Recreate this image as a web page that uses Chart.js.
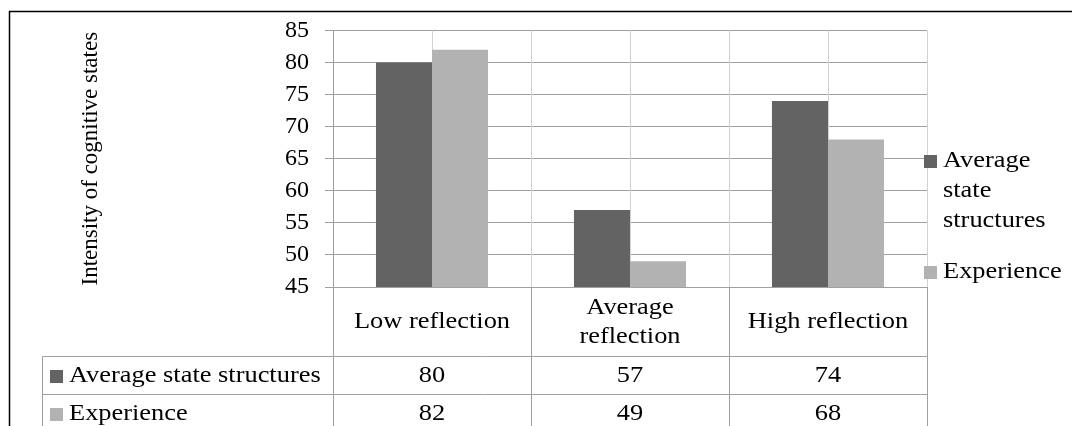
<!DOCTYPE html>
<html>
<head>
<meta charset="utf-8">
<script src="https://cdn.jsdelivr.net/npm/chart.js@4/dist/chart.umd.min.js"></script>
<style>
  html, body { margin: 0; padding: 0; background: #fff; }
  #wrap { width: 1072px; height: 426px; }
</style>
</head>
<body>
<div id="wrap"><canvas id="chart" width="1072" height="426"></canvas></div>
<script>
// Chart data
const categories = ["Low reflection", "Average reflection", "High reflection"];
const seriesNames = ["Average state structures", "Experience"];
const stateValues = [80, 57, 74];
const experienceValues = [82, 49, 68];
const seriesColors = ["#636363", "#b2b2b2"];
const yTitle = "Intensity of cognitive states";
const yMin = 45;
const yMax = 85;
const yStep = 5;

const FONT = "'Liberation Serif', 'Times New Roman', serif";
const SX = 1.1; // text in the reference is a little wider than tall

// text drawn a bit wider horizontally
function drawText(ctx, text, x, y, align) {
  ctx.save();
  ctx.translate(x, y);
  ctx.scale(SX, 1);
  ctx.textAlign = align || "center";
  ctx.textBaseline = "middle";
  ctx.fillText(text, 0, 0);
  ctx.restore();
}

// split words into lines that fit maxWidth
function wrapWords(ctx, text, maxWidth) {
  const words = text.split(" ");
  const lines = [];
  let line = "";
  words.forEach((w) => {
    const test = line ? line + " " + w : w;
    if (ctx.measureText(test).width * SX > maxWidth && line) {
      lines.push(line);
      line = w;
    } else {
      line = test;
    }
  });
  lines.push(line);
  return lines;
}

function line(ctx, x1, y1, x2, y2) {
  ctx.beginPath();
  ctx.moveTo(x1, y1);
  ctx.lineTo(x2, y2);
  ctx.stroke();
}

const tablePlugin = {
  id: "tablePlugin",
  beforeDatasetsDraw(chart) {
    // vertical gridlines every half category
    const { ctx, chartArea: a, scales: { x } } = chart;
    const half = (x.getPixelForValue(1) - x.getPixelForValue(0)) / 2;
    ctx.save();
    ctx.strokeStyle = "#d2d2d2";
    ctx.lineWidth = 1;
    for (let i = 0; i < categories.length; i++) {
      const c = Math.round(x.getPixelForValue(i)) + 0.5;
      line(ctx, c, a.top, c, a.bottom);
      const r = Math.round(x.getPixelForValue(i) + half) + 0.5;
      line(ctx, r, a.top, r, a.bottom);
    }
    ctx.restore();
  },
  afterDraw(chart) {
    const { ctx, chartArea: a, scales: { x } } = chart;
    const half = (x.getPixelForValue(1) - x.getPixelForValue(0)) / 2;
    const H = chart.height;
    const tableLeft = 42.5;
    const row1 = Math.round(a.bottom + 69) + 0.5;
    const row2 = row1 + 38;
    const axisX = Math.round(a.left) + 0.5;

    ctx.save();
    ctx.strokeStyle = "#a0a0a0";
    ctx.lineWidth = 1;
    // table lines
    line(ctx, axisX, a.bottom, axisX, H);
    for (let i = 0; i < categories.length; i++) {
      const r = Math.round(x.getPixelForValue(i) + half) + 0.5;
      line(ctx, r, a.bottom, r, H);
    }
    line(ctx, tableLeft, row1, a.right, row1);
    line(ctx, tableLeft, row2, a.right, row2);
    line(ctx, tableLeft, row1, tableLeft, H);

    ctx.fillStyle = "#000";
    ctx.font = "24px " + FONT;
    // category row
    const catMid = (a.bottom + row1) / 2;
    categories.forEach((c, i) => {
      const lines = wrapWords(ctx, c, half * 2 - 14);
      const lh = 29;
      lines.forEach((t, k) => {
        drawText(ctx, t, x.getPixelForValue(i), catMid + (k - (lines.length - 1) / 2) * lh);
      });
    });
    // value rows
    const rows = [stateValues, experienceValues];
    rows.forEach((vals, r) => {
      const yMid = row1 + 38 * r + 19;
      ctx.fillStyle = seriesColors[r];
      ctx.fillRect(50, Math.round(yMid - 6), 13, 13);
      ctx.fillStyle = "#000";
      drawText(ctx, seriesNames[r], 69, yMid, "left");
      vals.forEach((v, i) => drawText(ctx, String(v), x.getPixelForValue(i), yMid));
    });

    // legend on the right
    const legX = a.right + 16;
    const legY = [161, 272];
    seriesNames.forEach((n, r) => {
      ctx.fillStyle = seriesColors[r];
      ctx.fillRect(a.right - 3, legY[r] - 6, 13, 13);
      ctx.fillStyle = "#000";
      const lines = wrapWords(ctx, n, chart.width - legX - 4);
      lines.forEach((t, k) => drawText(ctx, t, legX, legY[r] + k * 30, "left"));
    });

    // y axis title
    ctx.save();
    ctx.font = "23px " + FONT;
    ctx.translate(91, (a.top + a.bottom) / 2);
    ctx.rotate(-Math.PI / 2);
    ctx.textAlign = "center";
    ctx.textBaseline = "middle";
    ctx.fillText(yTitle, 0, 0);
    ctx.restore();

    // outer chart border (cut off at right and bottom)
    ctx.strokeStyle = "#000";
    ctx.lineWidth = 1.5;
    ctx.beginPath();
    ctx.moveTo(chart.width, 11.5);
    ctx.lineTo(9.5, 11.5);
    ctx.lineTo(9.5, H);
    ctx.stroke();
    ctx.restore();
  }
};

new Chart(document.getElementById("chart"), {
  type: "bar",
  data: {
    labels: categories,
    datasets: [
      {
        label: seriesNames[0],
        data: stateValues,
        backgroundColor: seriesColors[0],
        categoryPercentage: 0.566,
        barPercentage: 1.0,
      },
      {
        label: seriesNames[1],
        data: experienceValues,
        backgroundColor: seriesColors[1],
        categoryPercentage: 0.566,
        barPercentage: 1.0,
      },
    ],
  },
  options: {
    responsive: false,
    animation: false,
    devicePixelRatio: 1,
    layout: { padding: { top: 26, right: 145, bottom: 0, left: 0 } },
    plugins: {
      legend: { display: false },
      tooltip: { enabled: false },
    },
    scales: {
      x: {
        grid: { display: false },
        border: { display: false },
        ticks: { display: false },
        afterFit: (s) => { s.height = 139; },
      },
      y: {
        min: yMin,
        max: yMax,
        ticks: {
          stepSize: yStep,
          color: "#000",
          font: { family: FONT, size: 24 },
          padding: 16,
        },
        grid: { color: "#a0a0a0", tickLength: 8 },
        border: { color: "#a0a0a0" },
        afterFit: (s) => { s.width = 333; },
      },
    },
  },
  plugins: [tablePlugin],
});
</script>
</body>
</html>
